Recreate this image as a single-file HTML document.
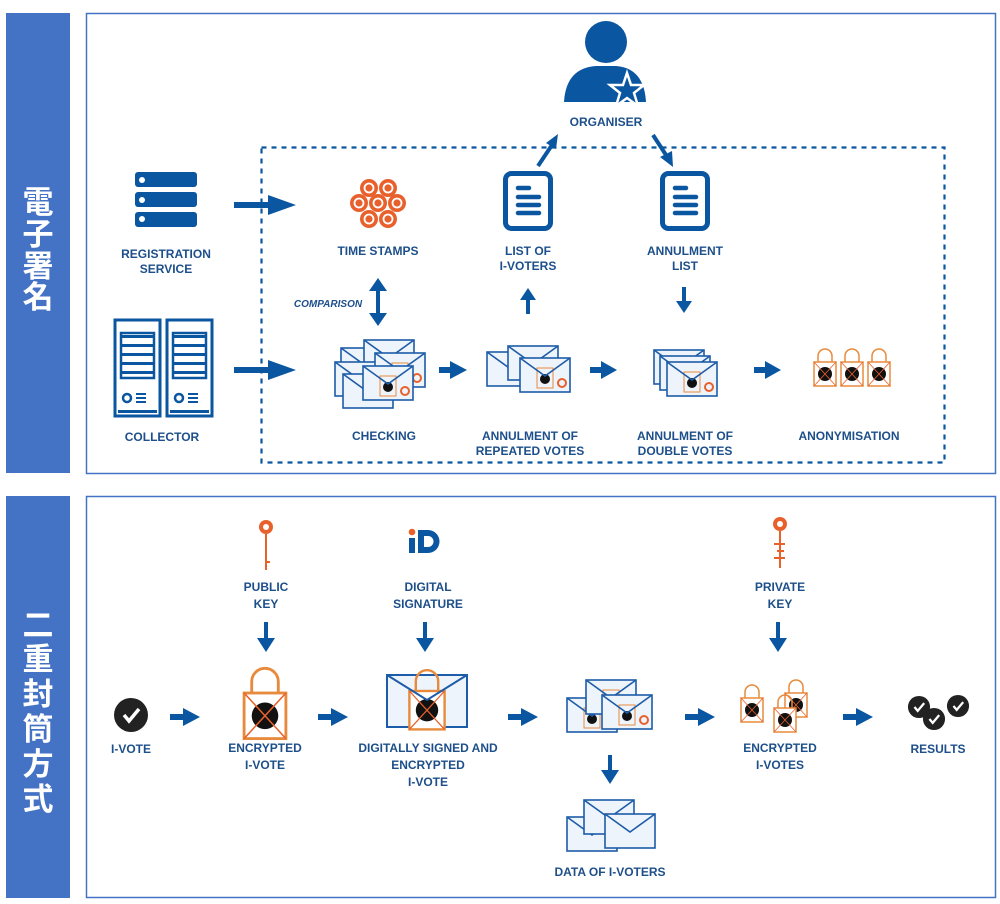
<!DOCTYPE html>
<html><head><meta charset="utf-8"><style>
html,body{margin:0;padding:0;background:#fff;}
svg{display:block;}
text{font-family:"Liberation Sans","DejaVu Sans",sans-serif;font-weight:bold;fill:#1d4f8a;font-size:12px;text-anchor:middle;}
.cjk{font-family:"Liberation Sans","Noto Sans CJK JP",sans-serif;fill:#fff;font-size:31px;font-weight:bold;}
</style></head><body>
<svg width="1000" height="904" viewBox="0 0 1000 904" xmlns="http://www.w3.org/2000/svg">
<defs>
<g id="env"><rect x="0" y="0" width="50" height="34" fill="#eef4fb" stroke="#1d5ca8" stroke-width="1.6"/><path d="M0,0 L25,18 L50,0" fill="none" stroke="#1d5ca8" stroke-width="1.6"/></g>
<g id="envl"><rect x="0" y="0" width="50" height="34" fill="#eef4fb" stroke="#1d5ca8" stroke-width="1.6"/><rect x="17" y="10" width="16" height="20" fill="none" stroke="#e88a3c" stroke-width="1"/><circle cx="25" cy="21" r="5" fill="#111"/><circle cx="42" cy="25" r="4" fill="none" stroke="#e8612c" stroke-width="2"/><path d="M0,0 L25,18 L50,0" fill="none" stroke="#1d5ca8" stroke-width="1.6"/></g>
<g id="lock"><path d="M-7,-10 V-16 A7,7 0 0 1 7,-16 V-10" fill="none" stroke="#e88a3c" stroke-width="1.5"/><rect x="-11" y="-10" width="22" height="24" fill="#fff" stroke="#e88a3c" stroke-width="1.5"/><circle cx="0" cy="2" r="7" fill="#111"/><path d="M-11,-10 L11,14 M11,-10 L-11,14" stroke="#e8612c" stroke-width="0.8"/></g>
<g id="doc"><rect x="2.5" y="2.5" width="45" height="55" rx="6" fill="none" stroke="#0b56a1" stroke-width="5"/><path d="M15,17 H26 M15,26 H36 M15,34 H36 M15,42 H36" stroke="#0b56a1" stroke-width="4.5" stroke-linecap="round"/></g>
<g id="chk"><circle r="17" fill="#222"/><path d="M-7,0 L-2,6 L8,-6" fill="none" stroke="#fff" stroke-width="3.5"/></g>
</defs>

<rect x="6" y="13" width="64" height="460" fill="#4472c4"/>
<rect x="6" y="496" width="64" height="402" fill="#4472c4"/>
<text class="cjk" x="38" y="213">電</text>
<text class="cjk" x="38" y="245">子</text>
<text class="cjk" x="38" y="277">署</text>
<text class="cjk" x="38" y="308">名</text>
<text class="cjk" x="38" y="636">二</text>
<text class="cjk" x="38" y="670">重</text>
<text class="cjk" x="38" y="705">封</text>
<text class="cjk" x="38" y="740">筒</text>
<text class="cjk" x="38" y="775">方</text>
<text class="cjk" x="38" y="810">式</text>

<rect x="86.5" y="13.5" width="909" height="460" fill="none" stroke="#4472c4" stroke-width="1.5"/>
<rect x="86.5" y="496.5" width="909" height="401" fill="none" stroke="#4472c4" stroke-width="1.5"/>
<rect x="261.5" y="147.5" width="683" height="315" fill="none" stroke="#0b56a1" stroke-width="2.2" stroke-dasharray="5,5"/>

<g fill="#0b56a1"><rect x="135" y="172" width="62" height="15" rx="3"/><rect x="135" y="192" width="62" height="15" rx="3"/><rect x="135" y="212" width="62" height="15" rx="3"/></g>
<g fill="#fff"><circle cx="142" cy="180" r="3"/><circle cx="142" cy="200" r="3"/><circle cx="142" cy="219" r="3"/></g>
<text x="166" y="258">REGISTRATION</text><text x="166" y="273">SERVICE</text>
<path d="M234,205 H270" stroke="#0b56a1" stroke-width="6"/>
<path d="M268,195 L296,205 L268,215 z" fill="#0b56a1"/>

<g fill="none" stroke="#0b56a1" stroke-width="3"><rect x="115" y="320" width="45" height="96"/><rect x="167" y="320" width="45" height="96"/></g>
<g fill="#0b56a1"><rect x="121" y="335" width="33" height="3"/><rect x="121" y="344" width="33" height="3"/><rect x="121" y="353" width="33" height="3"/><rect x="121" y="362" width="33" height="3"/><rect x="121" y="371" width="33" height="3"/><rect x="173" y="335" width="33" height="3"/><rect x="173" y="344" width="33" height="3"/><rect x="173" y="353" width="33" height="3"/><rect x="173" y="362" width="33" height="3"/><rect x="173" y="371" width="33" height="3"/><rect x="118" y="410" width="39" height="3"/><rect x="170" y="410" width="39" height="3"/></g>
<g fill="none" stroke="#0b56a1" stroke-width="2.5"><rect x="121" y="333" width="33" height="45"/><rect x="173" y="333" width="33" height="45"/><circle cx="127" cy="398" r="4"/><circle cx="179" cy="398" r="4"/></g>
<path d="M136,394 H146 M136,398 H146 M136,402 H146 M188,394 H198 M188,398 H198 M188,402 H198" stroke="#0b56a1" stroke-width="2"/>
<text x="162" y="441">COLLECTOR</text>
<path d="M234,370 H270" stroke="#0b56a1" stroke-width="6"/><path d="M268,360 L296,370 L268,380 z" fill="#0b56a1"/>

<g fill="#e8612c"><circle cx="369" cy="188" r="9"/><circle cx="388" cy="188" r="9"/><circle cx="359" cy="203" r="9"/><circle cx="378" cy="203" r="9"/><circle cx="397" cy="203" r="9"/><circle cx="369" cy="219" r="9"/><circle cx="388" cy="219" r="9"/></g>
<g fill="none" stroke="#fff" stroke-width="1.8"><circle cx="369" cy="188" r="4.5"/><circle cx="388" cy="188" r="4.5"/><circle cx="359" cy="203" r="4.5"/><circle cx="378" cy="203" r="4.5"/><circle cx="397" cy="203" r="4.5"/><circle cx="369" cy="219" r="4.5"/><circle cx="388" cy="219" r="4.5"/></g>
<text x="378" y="255">TIME STAMPS</text>
<text x="328" y="307" style="font-style:italic;font-size:10px">COMPARISON</text>
<path d="M378,288 V316" stroke="#0b56a1" stroke-width="4"/>
<path d="M369,291 L378,278 L387,291 z M369,313 L378,326 L387,313 z" fill="#0b56a1"/>

<use href="#env" x="341" y="348"/><use href="#env" x="364" y="340"/><use href="#env" x="335" y="362"/><use href="#envl" x="375" y="353"/><use href="#env" x="343" y="374"/><use href="#envl" x="363" y="366"/>
<text x="384" y="440">CHECKING</text>
<path d="M439,370 H452" stroke="#0b56a1" stroke-width="6"/><path d="M450,361 L467,370 L450,379 z" fill="#0b56a1"/>

<use href="#env" x="487" y="352"/><use href="#env" x="508" y="346"/><use href="#envl" x="520" y="358"/>
<text x="530" y="440">ANNULMENT OF</text><text x="530" y="455">REPEATED VOTES</text>
<path d="M590,370 H603" stroke="#0b56a1" stroke-width="6"/><path d="M601,361 L617,370 L601,379 z" fill="#0b56a1"/>

<use href="#env" x="654" y="350"/><use href="#env" x="660" y="356"/><use href="#envl" x="667" y="362"/>
<text x="685" y="440">ANNULMENT OF</text><text x="685" y="455">DOUBLE VOTES</text>
<path d="M754,370 H767" stroke="#0b56a1" stroke-width="6"/><path d="M765,361 L781,370 L765,379 z" fill="#0b56a1"/>

<use href="#lock" x="825" y="372"/><use href="#lock" x="852" y="372"/><use href="#lock" x="879" y="372"/>
<text x="849" y="440">ANONYMISATION</text>

<use href="#doc" x="503" y="171"/><text x="528" y="255">LIST OF</text><text x="528" y="270">I-VOTERS</text>
<path d="M528,314 V298" stroke="#0b56a1" stroke-width="4"/><path d="M520,300 L528,288 L536,300 z" fill="#0b56a1"/>
<use href="#doc" x="660" y="171"/><text x="685" y="255">ANNULMENT</text><text x="685" y="270">LIST</text>
<path d="M684,287 V303" stroke="#0b56a1" stroke-width="4"/><path d="M676,301 L684,313 L692,301 z" fill="#0b56a1"/>

<circle cx="606" cy="42" r="21" fill="#0b56a1"/>
<path d="M564,102 Q566,68 596,66 L616,66 Q644,68 646,102 z" fill="#0b56a1"/>
<path d="M627,73 L631,85 L644,85 L634,93 L638,106 L627,98 L616,106 L620,93 L610,85 L623,85 z" fill="#0b56a1" stroke="#fff" stroke-width="2.5"/>
<text x="606" y="126">ORGANISER</text>
<path d="M538,166 L552,145" stroke="#0b56a1" stroke-width="4"/><path d="M546,143 L558,134 L556,149 z" fill="#0b56a1"/>
<path d="M653,135 L666,155" stroke="#0b56a1" stroke-width="4"/><path d="M660,157 L673,167 L672,151 z" fill="#0b56a1"/>

<circle cx="266" cy="527" r="7" fill="#e8612c"/><circle cx="266" cy="527" r="3" fill="#fff"/>
<path d="M266,534 V570 M266,562 H270" stroke="#e8612c" stroke-width="2"/>
<text x="266" y="591">PUBLIC</text><text x="266" y="608">KEY</text>
<path d="M266,622 V640" stroke="#0b56a1" stroke-width="4"/><path d="M257,638 L266,652 L275,638 z" fill="#0b56a1"/>
<rect x="409" y="538" width="6" height="15" fill="#0b56a1"/><circle cx="412" cy="532" r="3.3" fill="#e8612c"/>
<path d="M418,530 H428 A11.5,11.5 0 0 1 428,553 H418 z" fill="#0b56a1"/><path d="M424,536 H428 A5.5,5.5 0 0 1 428,547 H424 z" fill="#fff"/>
<text x="428" y="591">DIGITAL</text><text x="428" y="608">SIGNATURE</text>
<path d="M425,622 V640" stroke="#0b56a1" stroke-width="4"/><path d="M416,638 L425,652 L434,638 z" fill="#0b56a1"/>
<circle cx="780" cy="524" r="7" fill="#e8612c"/><circle cx="780" cy="524" r="3" fill="#fff"/>
<path d="M780,531 V568 M774,544 H785 M777,551 H784 M774,558 H785" stroke="#e8612c" stroke-width="2"/>
<text x="780" y="591">PRIVATE</text><text x="780" y="608">KEY</text>
<path d="M778,622 V640" stroke="#0b56a1" stroke-width="4"/><path d="M769,638 L778,652 L787,638 z" fill="#0b56a1"/>

<use href="#chk" x="131" y="715"/><text x="131" y="753">I-VOTE</text>
<path d="M170,717 H185" stroke="#0b56a1" stroke-width="6"/><path d="M183,708 L200,717 L183,726 z" fill="#0b56a1"/>
<g transform="translate(265,712) scale(1.9)"><use href="#lock"/></g>
<text x="265" y="752">ENCRYPTED</text><text x="265" y="769">I-VOTE</text>
<path d="M318,717 H333" stroke="#0b56a1" stroke-width="6"/><path d="M331,708 L348,717 L331,726 z" fill="#0b56a1"/>
<rect x="387" y="675" width="80" height="52" fill="#eef4fb" stroke="#1d5ca8" stroke-width="2"/>
<g transform="translate(427,707) scale(1.6)"><use href="#lock"/></g>
<path d="M387,675 L427,700 L467,675" fill="none" stroke="#1d5ca8" stroke-width="2"/>
<text x="428" y="752">DIGITALLY SIGNED AND</text><text x="428" y="769">ENCRYPTED</text><text x="428" y="786">I-VOTE</text>
<path d="M508,717 H523" stroke="#0b56a1" stroke-width="6"/><path d="M521,708 L538,717 L521,726 z" fill="#0b56a1"/>
<use href="#envl" x="567" y="698"/><use href="#envl" x="586" y="680"/><use href="#envl" x="602" y="695"/>
<path d="M610,755 V772" stroke="#0b56a1" stroke-width="4"/><path d="M601,770 L610,784 L619,770 z" fill="#0b56a1"/>
<use href="#env" x="567" y="817"/><use href="#env" x="584" y="800"/><use href="#env" x="605" y="814"/>
<text x="610" y="876">DATA OF I-VOTERS</text>
<path d="M685,717 H700" stroke="#0b56a1" stroke-width="6"/><path d="M698,708 L715,717 L698,726 z" fill="#0b56a1"/>
<use href="#lock" x="752" y="708"/><use href="#lock" x="796" y="703"/><use href="#lock" x="785" y="718"/>
<text x="780" y="752">ENCRYPTED</text><text x="780" y="769">I-VOTES</text>
<path d="M843,717 H858" stroke="#0b56a1" stroke-width="6"/><path d="M856,708 L873,717 L856,726 z" fill="#0b56a1"/>
<g transform="translate(919,707) scale(0.65)"><use href="#chk"/></g>
<g transform="translate(958,706) scale(0.65)"><use href="#chk"/></g>
<g transform="translate(934,719) scale(0.65)"><use href="#chk"/></g>
<text x="938" y="753">RESULTS</text>
</svg>
</body></html>
